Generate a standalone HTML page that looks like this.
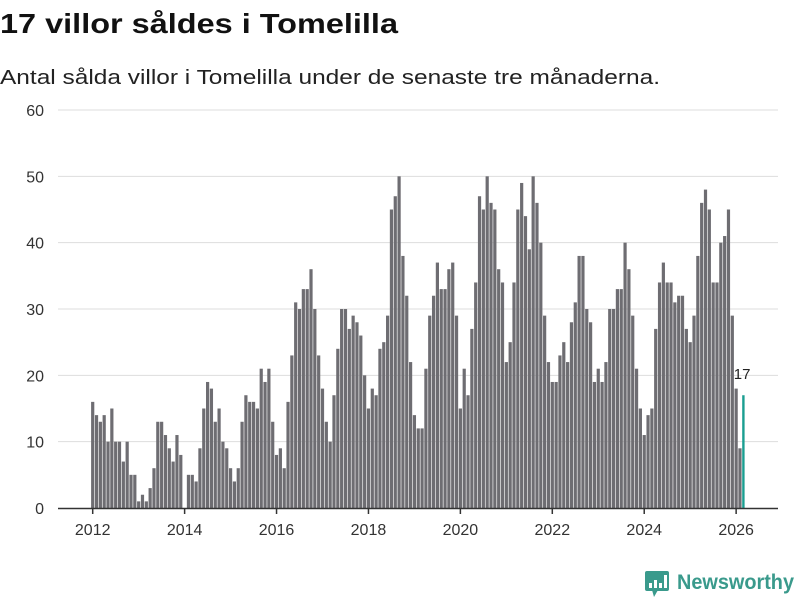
<!DOCTYPE html>
<html><head><meta charset="utf-8"><style>
body{margin:0;background:#fff;width:800px;height:600px;overflow:hidden;font-family:"Liberation Sans",sans-serif}
</style></head><body>
<svg id="chart" width="800" height="600" xmlns="http://www.w3.org/2000/svg" font-family="Liberation Sans, sans-serif">
<text x="0" y="33" font-size="28" font-weight="bold" fill="#111" textLength="398" lengthAdjust="spacingAndGlyphs">17 villor såldes i Tomelilla</text>
<text x="0" y="84" font-size="20" fill="#222" textLength="660" lengthAdjust="spacingAndGlyphs">Antal sålda villor i Tomelilla under de senaste tre månaderna.</text>
<g id="grid"></g>
<g id="bars"></g>
<g id="xaxis"></g>
<g>
<rect x="645" y="571" width="24" height="20" rx="2" fill="#3a9a8c"/>
<polygon points="652,590 658,590 654,597" fill="#3a9a8c"/>
<rect x="649" y="583" width="3" height="5" fill="#fff"/>
<rect x="654" y="580" width="3" height="8" fill="#fff"/>
<rect x="659" y="583" width="3" height="5" fill="#fff"/>
<rect x="664" y="575" width="3" height="13" fill="#fff"/>
<text x="677" y="589" font-size="21" font-weight="bold" fill="#3a9a8c" textLength="117" lengthAdjust="spacingAndGlyphs">Newsworthy</text>
</g>
</svg>
<script>
const values = [
16,14,13,14,10,15,10,10,7,10,5,5,
1,2,1,3,6,13,13,11,9,7,11,8,
0,5,5,4,9,15,19,18,13,15,10,9,
6,4,6,13,17,16,16,15,21,19,21,13,
8,9,6,16,23,31,30,33,33,36,30,23,
18,13,10,17,24,30,30,27,29,28,26,20,
15,18,17,24,25,29,45,47,50,38,32,22,
14,12,12,21,29,32,37,33,33,36,37,29,
15,21,17,27,34,47,45,50,46,45,36,34,
22,25,34,45,49,44,39,50,46,40,29,22,
19,19,23,25,22,28,31,38,38,30,28,19,
21,19,22,30,30,33,33,40,36,29,21,15,
11,14,15,27,34,37,34,34,31,32,32,27,
25,29,38,46,48,45,34,34,40,41,45,29,
18,9,17];
const startYear = 2012;
const yTicks = [0,10,20,30,40,50,60];
const xTickYears = [2012,2014,2016,2018,2020,2022,2024,2026];
const NS='http://www.w3.org/2000/svg';
const y0=508, yTop=110, yMax=60;
const x0=92.7, monthW=3.83;
function yScale(v){return y0-(v/yMax)*(y0-yTop);}
function xScale(i){return x0+i*monthW;}
function mk(tag,attrs,parent){const e=document.createElementNS(NS,tag);for(const k in attrs)e.setAttribute(k,attrs[k]);parent.appendChild(e);return e;}
const grid=document.getElementById('grid');
yTicks.forEach(t=>{
  const y=yScale(t);
  if(t>0){const l=mk('line',{x1:58,x2:778,y1:y,y2:y,stroke:'#ddd','stroke-width':1},grid);
  
  }
  const tx=mk('text',{x:44,y:y+6,'font-size':16,fill:'#333','text-anchor':'end'},grid);
  
  
  tx.textContent=t;
});
const bars=document.getElementById('bars');
const bw=3.2;
values.forEach((v,i)=>{
  const last=i===values.length-1;
  const r=mk('rect',{x:xScale(i)-bw/2,y:yScale(v),width:last?2.4:bw,height:y0-yScale(v),fill:last?'#1a9e91':'#6e6d72'},bars);
  
  
  if(last){
    const lb=mk('text',{x:xScale(i)-10,y:yScale(v)-16,'font-size':15,fill:'#222'},bars);
    
    
    lb.textContent=v;
  }
});
const xa=document.getElementById('xaxis');
const al=mk('line',{x1:58,x2:778,y1:y0+0.5,y2:y0+0.5,stroke:'#333','stroke-width':1.5},xa);


xTickYears.forEach(yr=>{
  const x=xScale((yr-startYear)*12);
  const tk=mk('line',{x1:x,x2:x,y1:y0,y2:y0+6,stroke:'#333','stroke-width':1.5},xa);
  
  
  const tx=mk('text',{x:x,y:y0+27,'font-size':16,fill:'#333','text-anchor':'middle'},xa);
  
  
  tx.textContent=yr;
});
</script>
</body></html>
